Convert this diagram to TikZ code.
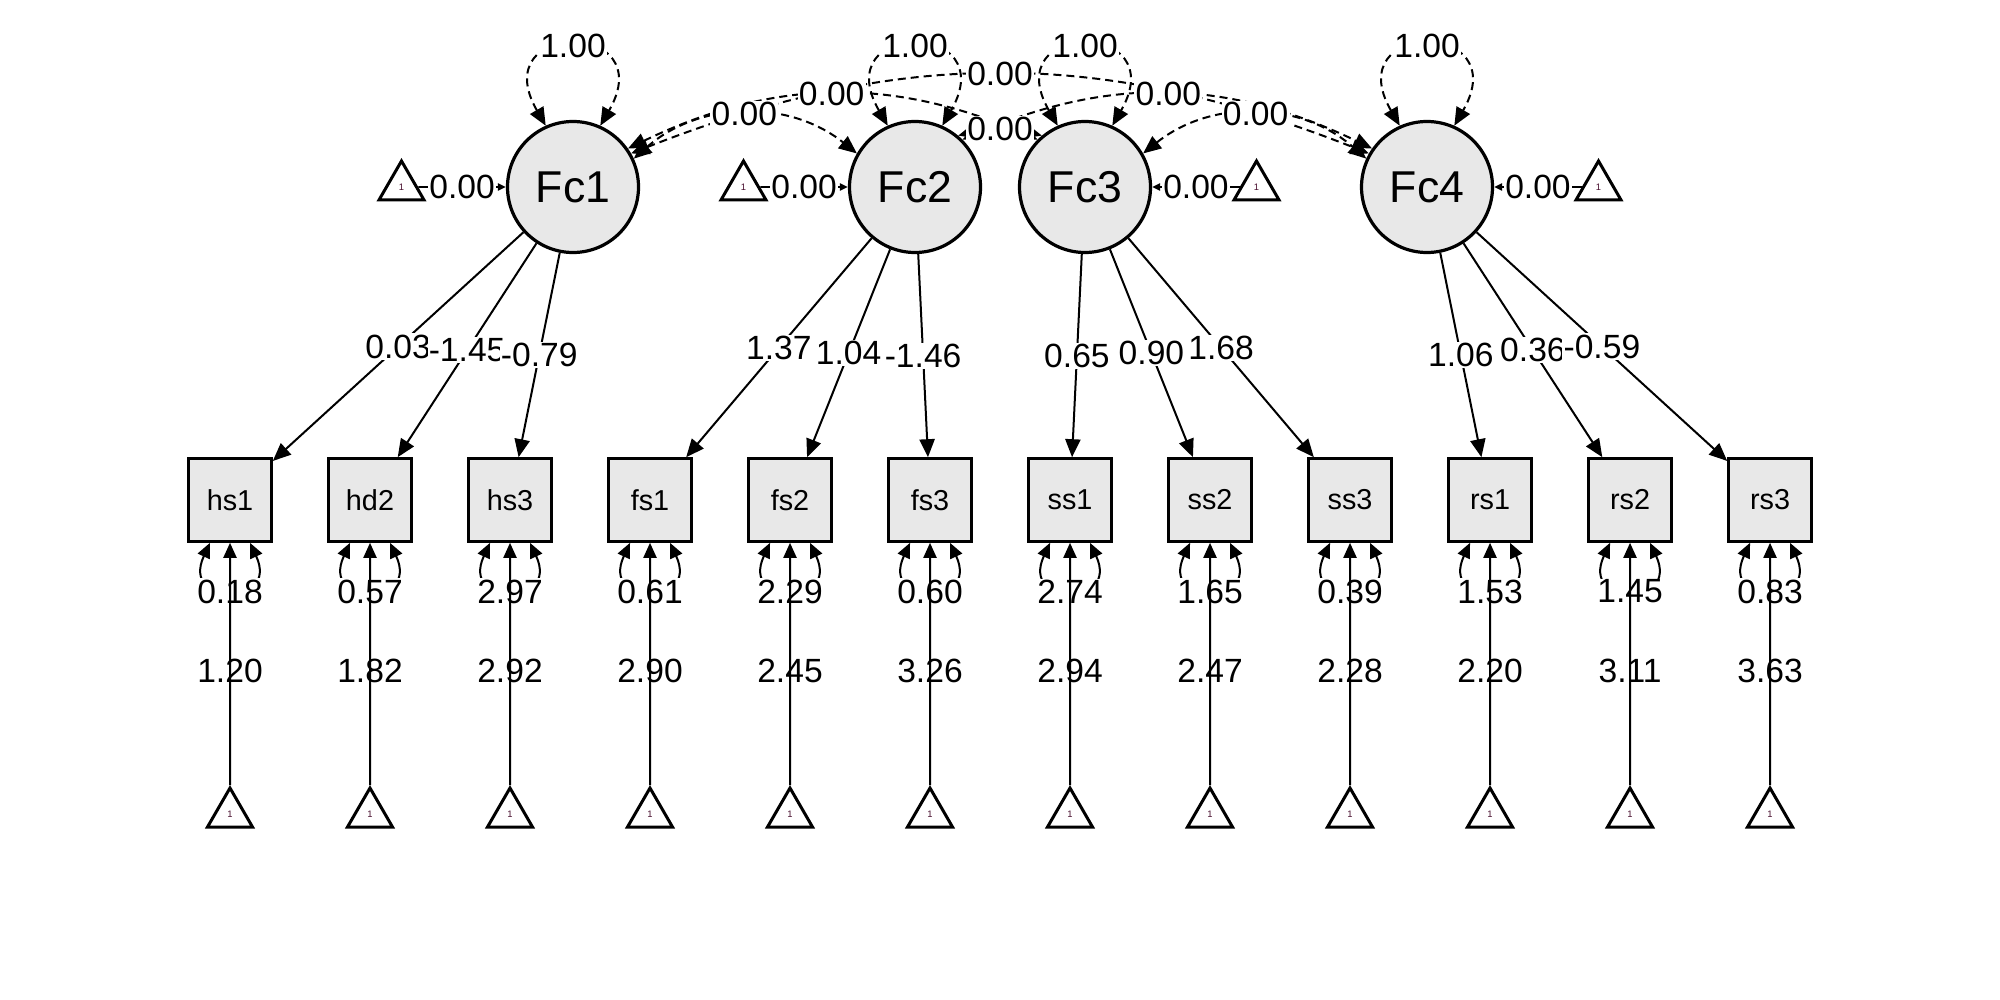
\documentclass[tikz,border=0pt]{standalone}
\usepackage{fontspec}
\setmainfont{Liberation Sans}
\usetikzlibrary{arrows.meta,shapes.geometric}
\definecolor{nodefill}{HTML}{E8E8E8}
\definecolor{onecol}{HTML}{4A1030}
\tikzset{
  bigtip/.tip={Triangle[length=9pt,width=7.6pt]},
  midtip/.tip={Triangle[length=7.5pt,width=6.5pt]},
  smalltip/.tip={Triangle[length=4pt,width=3.6pt]},
  lat/.style={circle,draw,line width=1.6pt,fill=nodefill,minimum size=65.5pt,inner sep=0pt,font=\fontsize{22.3}{26}\selectfont},
  man/.style={rectangle,draw,line width=1.5pt,fill=nodefill,minimum size=41.3pt,inner sep=0pt,font=\fontsize{14.4}{17}\selectfont},
  tri/.style={regular polygon,regular polygon sides=3,draw,line width=1.5pt,fill=white,minimum size=26pt,inner sep=0pt,text=onecol,font=\fontsize{4.7}{5}\selectfont},
  lbl/.style={fill=white,inner sep=0.6pt,font=\fontsize{16.8}{19}\selectfont},
  ilbl/.style={inner sep=0.6pt,font=\fontsize{16.8}{19}\selectfont},
  load/.style={line width=1pt,-bigtip},
  cov/.style={line width=1pt,dash pattern=on 4pt off 2.5pt,bigtip-bigtip},
  res/.style={line width=1pt,midtip-midtip},
  icp/.style={line width=1pt,-midtip},
  ficp/.style={line width=0.9pt,-smalltip},
}
\begin{document}
\begin{tikzpicture}[x=0.5pt,y=0.5pt]
\useasboundingbox (0,0) rectangle (2000,-1000);
% latent factors
\node[lat] (f1) at (573,-187) {Fc1};
\node[lat] (f2) at (915,-187) {Fc2};
\node[lat] (f3) at (1085,-187) {Fc3};
\node[lat] (f4) at (1427,-187) {Fc4};
% factor intercept triangles
\node[tri] (ft1) at (401.5,-187) {1};
\node[tri] (ft2) at (743.5,-187) {1};
\node[tri] (ft3) at (1256.5,-187) {1};
\node[tri] (ft4) at (1598.5,-187) {1};
% manifest variables
\node[man] (hs1) at (230,-500) {hs1};
\node[man] (hd2) at (370,-500) {hd2};
\node[man] (hs3) at (510,-500) {hs3};
\node[man] (fs1) at (650,-500) {fs1};
\node[man] (fs2) at (790,-500) {fs2};
\node[man] (fs3) at (930,-500) {fs3};
\node[man] (ss1) at (1070,-500) {ss1};
\node[man] (ss2) at (1210,-500) {ss2};
\node[man] (ss3) at (1350,-500) {ss3};
\node[man] (rs1) at (1490,-500) {rs1};
\node[man] (rs2) at (1630,-500) {rs2};
\node[man] (rs3) at (1770,-500) {rs3};
% bottom intercept triangles
\node[tri] (t1) at (230,-814) {1};
\node[tri] (t2) at (370,-814) {1};
\node[tri] (t3) at (510,-814) {1};
\node[tri] (t4) at (650,-814) {1};
\node[tri] (t5) at (790,-814) {1};
\node[tri] (t6) at (930,-814) {1};
\node[tri] (t7) at (1070,-814) {1};
\node[tri] (t8) at (1210,-814) {1};
\node[tri] (t9) at (1350,-814) {1};
\node[tri] (t10) at (1490,-814) {1};
\node[tri] (t11) at (1630,-814) {1};
\node[tri] (t12) at (1770,-814) {1};
% loadings
\draw[load] (f1) -- coordinate[pos=.5] (l1) (hs1);
\draw[load] (f1) -- coordinate[pos=.5] (l2) (hd2);
\draw[load] (f1) -- coordinate[pos=.5] (l3) (hs3);
\draw[load] (f2) -- coordinate[pos=.5] (l4) (fs1);
\draw[load] (f2) -- coordinate[pos=.5] (l5) (fs2);
\draw[load] (f2) -- coordinate[pos=.5] (l6) (fs3);
\draw[load] (f3) -- coordinate[pos=.5] (l7) (ss1);
\draw[load] (f3) -- coordinate[pos=.5] (l8) (ss2);
\draw[load] (f3) -- coordinate[pos=.5] (l9) (ss3);
\draw[load] (f4) -- coordinate[pos=.5] (l10) (rs1);
\draw[load] (f4) -- coordinate[pos=.5] (l11) (rs2);
\draw[load] (f4) -- coordinate[pos=.5] (l12) (rs3);
% factor variances
\draw[cov] (f1.114) to[out=120,in=60,looseness=5.8] coordinate[pos=.5] (v1) (f1.66);
\draw[cov] (f2.114) to[out=120,in=60,looseness=5.8] coordinate[pos=.5] (v2) (f2.66);
\draw[cov] (f3.114) to[out=120,in=60,looseness=5.8] coordinate[pos=.5] (v3) (f3.66);
\draw[cov] (f4.114) to[out=120,in=60,looseness=5.8] coordinate[pos=.5] (v4) (f4.66);
% covariances
\draw[cov] (f1.25) to[bend left=40] coordinate[pos=.5] (cA) (f2.150);
\draw[cov] (f1.35) to[bend left=24.5] coordinate[pos=.5] (cB) (f3.135);
\draw[cov] (f1.30) to[bend left=21.5] coordinate[pos=.5] (cC) (f4.150);
\draw[cov] (f2.50) to[bend left=15] coordinate[pos=.5] (cD) (f3.130);
\draw[cov] (f2.45) to[bend left=24.5] coordinate[pos=.5] (cE) (f4.145);
\draw[cov] (f3.30) to[bend left=40] coordinate[pos=.5] (cF) (f4.155);
% residual variances
\draw[res] (hs1.-115) to[out=245,in=295,looseness=4.6] coordinate[pos=.5] (r1) (hs1.-65);
\draw[res] (hd2.-115) to[out=245,in=295,looseness=4.6] coordinate[pos=.5] (r2) (hd2.-65);
\draw[res] (hs3.-115) to[out=245,in=295,looseness=4.6] coordinate[pos=.5] (r3) (hs3.-65);
\draw[res] (fs1.-115) to[out=245,in=295,looseness=4.6] coordinate[pos=.5] (r4) (fs1.-65);
\draw[res] (fs2.-115) to[out=245,in=295,looseness=4.6] coordinate[pos=.5] (r5) (fs2.-65);
\draw[res] (fs3.-115) to[out=245,in=295,looseness=4.6] coordinate[pos=.5] (r6) (fs3.-65);
\draw[res] (ss1.-115) to[out=245,in=295,looseness=4.6] coordinate[pos=.5] (r7) (ss1.-65);
\draw[res] (ss2.-115) to[out=245,in=295,looseness=4.6] coordinate[pos=.5] (r8) (ss2.-65);
\draw[res] (ss3.-115) to[out=245,in=295,looseness=4.6] coordinate[pos=.5] (r9) (ss3.-65);
\draw[res] (rs1.-115) to[out=245,in=295,looseness=4.6] coordinate[pos=.5] (r10) (rs1.-65);
\draw[res] (rs2.-115) to[out=245,in=295,looseness=4.6] coordinate[pos=.5] (r11) (rs2.-65);
\draw[res] (rs3.-115) to[out=245,in=295,looseness=4.6] coordinate[pos=.5] (r12) (rs3.-65);
% labels (white background)
\node[lbl] at (l1) {0.03};
\node[lbl] at (l2) {-1.45};
\node[lbl] at (l3) {-0.79};
\node[lbl] at (l4) {1.37};
\node[lbl] at (l5) {1.04};
\node[lbl] at (l6) {-1.46};
\node[lbl] at (l7) {0.65};
\node[lbl] at (l8) {0.90};
\node[lbl] at (l9) {1.68};
\node[lbl] at (l10) {1.06};
\node[lbl] at (l11) {0.36};
\node[lbl] at (l12) {-0.59};
\node[lbl] at (v1) {1.00};
\node[lbl] at (v2) {1.00};
\node[lbl] at (v3) {1.00};
\node[lbl] at (v4) {1.00};
\node[lbl] at (cA) {0.00};
\node[lbl] at (cB) {0.00};
\node[lbl] at (cC) {0.00};
\node[lbl] at (cD) {0.00};
\node[lbl] at (cE) {0.00};
\node[lbl] at (cF) {0.00};
\node[lbl] at (r1) {0.18};
\node[lbl] at (r2) {0.57};
\node[lbl] at (r3) {2.97};
\node[lbl] at (r4) {0.61};
\node[lbl] at (r5) {2.29};
\node[lbl] at (r6) {0.60};
\node[lbl] at (r7) {2.74};
\node[lbl] at (r8) {1.65};
\node[lbl] at (r9) {0.39};
\node[lbl] at (r10) {1.53};
\node[lbl] at (r11) {1.45};
\node[lbl] at (r12) {0.83};
% factor intercepts
\draw[ficp] (ft1) -- coordinate[pos=.5] (fi1) (f1);
\draw[ficp] (ft2) -- coordinate[pos=.5] (fi2) (f2);
\draw[ficp] (ft3) -- coordinate[pos=.5] (fi3) (f3);
\draw[ficp] (ft4) -- coordinate[pos=.5] (fi4) (f4);
\node[lbl] at (fi1) {0.00};
\node[lbl] at (fi2) {0.00};
\node[lbl] at (fi3) {0.00};
\node[lbl] at (fi4) {0.00};
% item intercepts
\draw[icp] (t1) -- coordinate[pos=.47] (i1) (hs1);
\draw[icp] (t2) -- coordinate[pos=.47] (i2) (hd2);
\draw[icp] (t3) -- coordinate[pos=.47] (i3) (hs3);
\draw[icp] (t4) -- coordinate[pos=.47] (i4) (fs1);
\draw[icp] (t5) -- coordinate[pos=.47] (i5) (fs2);
\draw[icp] (t6) -- coordinate[pos=.47] (i6) (fs3);
\draw[icp] (t7) -- coordinate[pos=.47] (i7) (ss1);
\draw[icp] (t8) -- coordinate[pos=.47] (i8) (ss2);
\draw[icp] (t9) -- coordinate[pos=.47] (i9) (ss3);
\draw[icp] (t10) -- coordinate[pos=.47] (i10) (rs1);
\draw[icp] (t11) -- coordinate[pos=.47] (i11) (rs2);
\draw[icp] (t12) -- coordinate[pos=.47] (i12) (rs3);
\node[ilbl] at (i1) {1.20};
\node[ilbl] at (i2) {1.82};
\node[ilbl] at (i3) {2.92};
\node[ilbl] at (i4) {2.90};
\node[ilbl] at (i5) {2.45};
\node[ilbl] at (i6) {3.26};
\node[ilbl] at (i7) {2.94};
\node[ilbl] at (i8) {2.47};
\node[ilbl] at (i9) {2.28};
\node[ilbl] at (i10) {2.20};
\node[ilbl] at (i11) {3.11};
\node[ilbl] at (i12) {3.63};
\end{tikzpicture}
\end{document}
